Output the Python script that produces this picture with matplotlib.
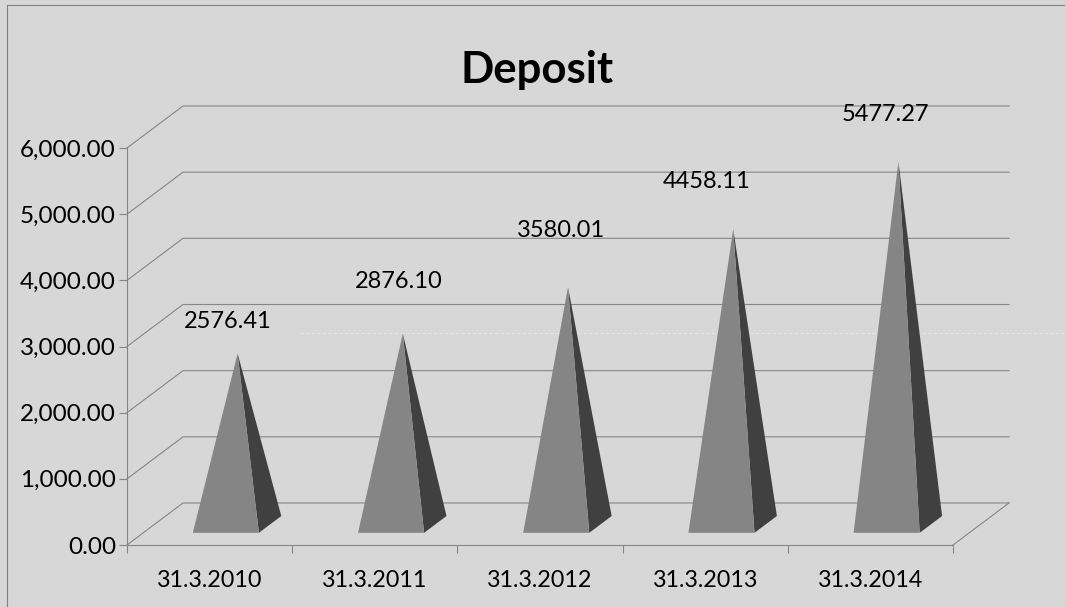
import matplotlib
matplotlib.use('Agg')
import matplotlib.pyplot as plt
from matplotlib.lines import Line2D
from matplotlib.patches import Polygon

# --- data ---
fechas = ['31.3.2010', '31.3.2011', '31.3.2012', '31.3.2013', '31.3.2014']
deposit = [2576.41, 2876.10, 3580.01, 4458.11, 5477.27]
etiquetas = ['2576.41', '2876.10', '3580.01', '4458.11', '5477.27']
y_ticks = [0, 1000, 2000, 3000, 4000, 5000, 6000]

# label offset from the pyramid tip, in pixels
offsets = [(-10, 32), (-4, 52), (-7, 57), (-27, 48), (-13, 47)]

# --- style ---
W, H = 1065, 607
FONDO = '#d7d7d7'
LINEA = '#868686'
FRENTE = '#858585'
LADO = '#404040'
LW = 0.8
plt.rcParams['font.family'] = ['Lato', 'DejaVu Sans']

# fake 3D: how far the back wall sits behind the front plane
DX = 0.339   # categories
DY = 635     # value units


def p3d(x, v, d):
    return (x + d * DX, v + d * DY)


fig = plt.figure(figsize=(W / 100, H / 100), dpi=100, facecolor=FONDO)
ax = fig.add_axes([127 / W, 1 - 545 / H, 826 / W, 397 / H])
ax.set_xlim(0, len(fechas))
ax.set_ylim(0, 6000)
ax.patch.set_alpha(0)

for s in ['top', 'right']:
    ax.spines[s].set_visible(False)
for s in ['left', 'bottom']:
    ax.spines[s].set_color(LINEA)
    ax.spines[s].set_linewidth(LW)

ax.set_yticks(y_ticks)
ax.set_yticklabels([f'{v:,.2f}' for v in y_ticks])
ax.set_xticks(range(len(fechas) + 1))
ax.set_xticklabels([])
ax.set_xticks([i + 0.5 for i in range(len(fechas))], minor=True)
ax.set_xticklabels(fechas, minor=True)
ax.tick_params(axis='both', which='major', direction='out', length=5.5, width=LW,
               color=LINEA, labelsize=17.5, labelcolor='black')
ax.tick_params(axis='y', pad=2.5)
ax.tick_params(axis='x', which='minor', length=0, labelsize=16.8, pad=18)

# back wall and left wall lines
n = len(fechas)
for v in y_ticks:
    xs = [0, p3d(0, v, 1)[0], p3d(n, v, 1)[0]]
    ys = [v, p3d(0, v, 1)[1], p3d(n, v, 1)[1]]
    ax.plot(xs, ys, color=LINEA, lw=LW, clip_on=False, zorder=1)
# floor right edge
ax.plot([n, p3d(n, 0, 1)[0]], [0, p3d(n, 0, 1)[1]], color=LINEA, lw=LW, clip_on=False, zorder=1)

# pyramids
for i, valor in enumerate(deposit):
    c = i + 0.5
    izq = p3d(c - 0.2, 0, 0.29)
    der = p3d(c + 0.2, 0, 0.29)
    fondo = p3d(c + 0.2, 0, 0.69)
    punta = p3d(c, valor, 0.5)
    ax.add_patch(Polygon([der, fondo, punta], closed=True, facecolor=LADO, edgecolor='none',
                         clip_on=False, zorder=3))
    ax.add_patch(Polygon([izq, der, punta], closed=True, facecolor=FRENTE, edgecolor='none',
                         clip_on=False, zorder=4))
    ax.annotate(etiquetas[i], xy=punta, xytext=offsets[i], textcoords='offset pixels',
                ha='center', va='center', fontsize=17, color='black', zorder=5,
                annotation_clip=False)

fig.text(537 / W, 1 - 70 / H, 'Deposit', ha='center', va='center', fontsize=31.5,
         fontweight='bold', color='black')

# chart area border (top and left only reach the picture) and the pale seam
fig.add_artist(Line2D([7 / W, 7 / W, 1], [0, 1 - 5 / H, 1 - 5 / H], color='#808080', lw=LW))
fig.add_artist(Line2D([300 / W, 1], [1 - 333 / H, 1 - 333 / H], color='#e6e6e6', lw=LW,
                      ls=(0, (3, 2)), zorder=-1))

fig.savefig('out.png', dpi=100, facecolor=FONDO)
